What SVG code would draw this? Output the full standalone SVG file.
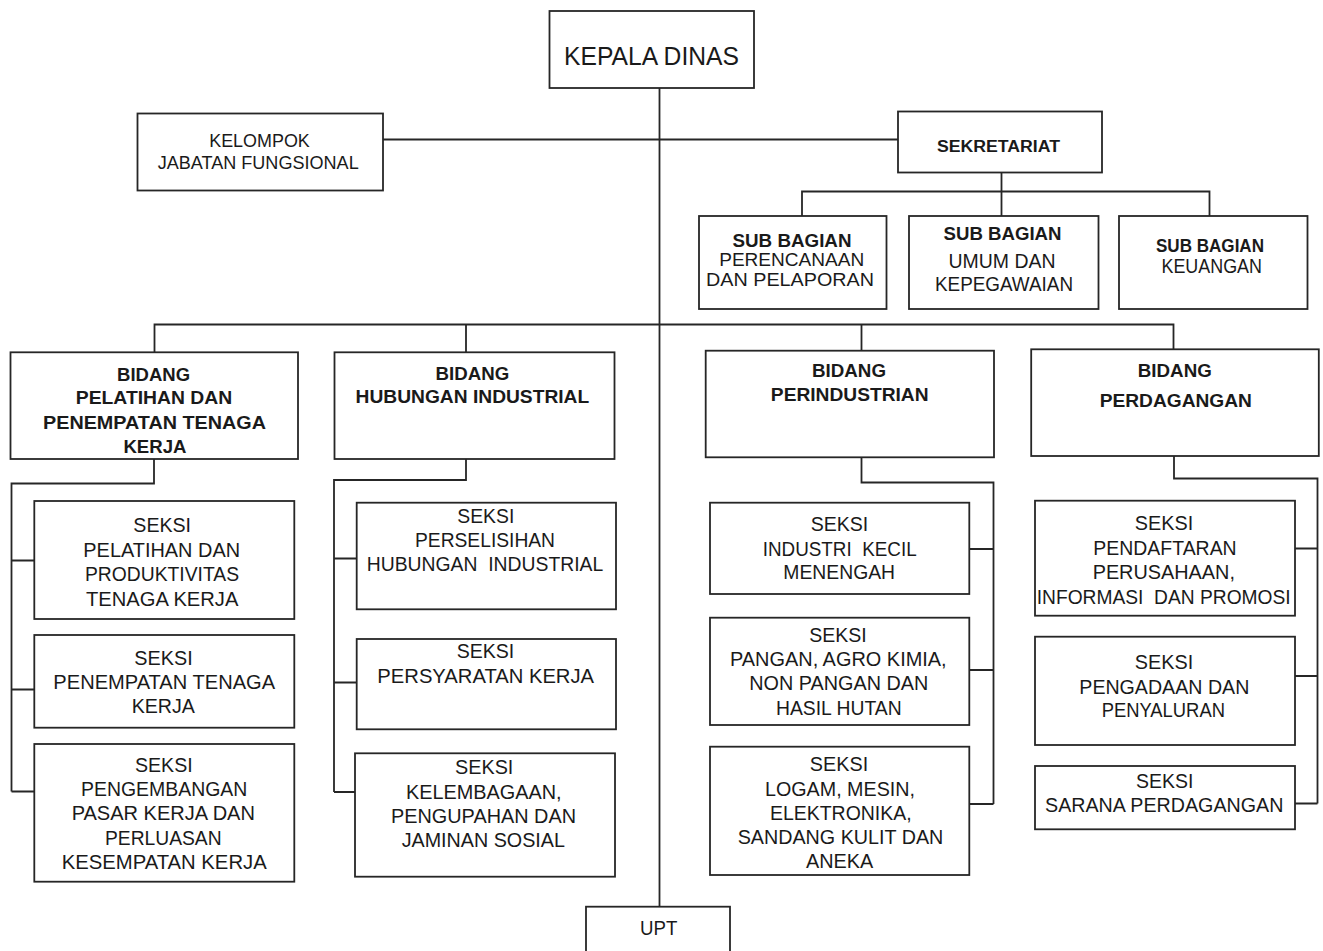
<svg xmlns="http://www.w3.org/2000/svg" width="1323" height="951" viewBox="0 0 1323 951">
<style>
.box{fill:#fff;stroke:#262626;stroke-width:1.8}
.ln{fill:none;stroke:#262626;stroke-width:1.8}
text{font-family:"Liberation Sans",Arial,sans-serif;fill:#1a1a1a;text-anchor:middle}
.t{font-size:20px}
.s{font-size:18px}
.b{font-size:19px;font-weight:bold}
</style>
<rect width="1323" height="951" fill="#fff"/>
<g id="connectors">
<path class="ln" d="M659.5 88 V907"/>
<path class="ln" d="M383 139.5 H898"/>
<path class="ln" d="M1001.5 172.5 V216 M802 216 V191.5 H1209.5 V216"/>
<path class="ln" d="M154.5 352 V324.5 H1173.5 V349.5 M466 324.5 V352 M861.5 324.5 V350.7"/>
<path class="ln" d="M154 459 V483.5 H11.5 V791.5 M11.5 560.5 H34.5 M11.5 689.5 H34.5 M11.5 791.5 H34.5"/>
<path class="ln" d="M466 459 V480 H334 V792 M334 558.5 H356.7 M334 682.5 H356.7 M334 792 H355"/>
<path class="ln" d="M861.5 457.3 V482.5 H993.5 V804 M969.3 549 H993.5 M969.3 670 H993.5 M969.3 804 H993.5"/>
<path class="ln" d="M1174 456 V478.5 H1317.5 V803.5 M1295 548.5 H1317.5 M1295 676 H1317.5 M1295 803.5 H1317.5"/>
</g>
<g id="kepala-dinas">
<rect class="box" x="549.5" y="11" width="204.5" height="77"/>
<text x="651.5" y="65" style="font-size:25px" textLength="175" lengthAdjust="spacingAndGlyphs">KEPALA DINAS</text>
</g>
<g id="kelompok-jabatan-fungsional">
<rect class="box" x="137.5" y="113.5" width="245.5" height="77"/>
<text x="259.5" y="146.7" style="font-size:18px" textLength="100.6" lengthAdjust="spacingAndGlyphs">KELOMPOK</text>
<text x="258.2" y="168.5" style="font-size:18px" textLength="201" lengthAdjust="spacingAndGlyphs">JABATAN FUNGSIONAL</text>
</g>
<g id="sekretariat">
<rect class="box" x="898" y="111.5" width="204" height="61"/>
<text x="998.5" y="151.7" style="font-size:16px;font-weight:bold" textLength="123" lengthAdjust="spacingAndGlyphs">SEKRETARIAT</text>
</g>
<g id="sub-bagian-perencanaan">
<rect class="box" x="699" y="216" width="187.5" height="93"/>
<text class="b" x="792" y="246.7" style="font-size:18px" textLength="119" lengthAdjust="spacingAndGlyphs">SUB BAGIAN</text>
<text class="s" x="791.7" y="266.2" textLength="145" lengthAdjust="spacingAndGlyphs">PERENCANAAN</text>
<text class="s" x="790" y="285.7" textLength="168" lengthAdjust="spacingAndGlyphs">DAN PELAPORAN</text>
</g>
<g id="sub-bagian-umum">
<rect class="box" x="909" y="216" width="189.5" height="93"/>
<text class="b" x="1002.5" y="240" textLength="118" lengthAdjust="spacingAndGlyphs">SUB BAGIAN</text>
<text class="t" x="1002" y="268.3" textLength="107" lengthAdjust="spacingAndGlyphs">UMUM DAN</text>
<text class="t" x="1004" y="291" textLength="138" lengthAdjust="spacingAndGlyphs">KEPEGAWAIAN</text>
</g>
<g id="sub-bagian-keuangan">
<rect class="box" x="1119" y="216" width="188.5" height="93"/>
<text class="b" x="1210" y="251.7" textLength="108" lengthAdjust="spacingAndGlyphs">SUB BAGIAN</text>
<text class="t" x="1211.7" y="273.3" textLength="100.5" lengthAdjust="spacingAndGlyphs">KEUANGAN</text>
</g>
<g id="bidang-pelatihan">
<rect class="box" x="10.5" y="352.3" width="287.5" height="106.7"/>
<text class="b" x="153.6" y="380.7" textLength="73" lengthAdjust="spacingAndGlyphs">BIDANG</text>
<text class="b" x="154" y="404.3" textLength="156.5" lengthAdjust="spacingAndGlyphs">PELATIHAN DAN</text>
<text class="b" x="154.5" y="429" textLength="223" lengthAdjust="spacingAndGlyphs">PENEMPATAN TENAGA</text>
<text class="b" x="154.9" y="453.3" textLength="63" lengthAdjust="spacingAndGlyphs">KERJA</text>
</g>
<g id="bidang-hubungan-industrial">
<rect class="box" x="334.5" y="352.3" width="280" height="106.7"/>
<text class="b" x="472.4" y="380" textLength="73.7" lengthAdjust="spacingAndGlyphs">BIDANG</text>
<text class="b" x="472.4" y="403.3" textLength="233.6" lengthAdjust="spacingAndGlyphs">HUBUNGAN INDUSTRIAL</text>
</g>
<g id="bidang-perindustrian">
<rect class="box" x="705.7" y="350.7" width="288.3" height="106.6"/>
<text class="b" x="849" y="377.3" textLength="74" lengthAdjust="spacingAndGlyphs">BIDANG</text>
<text class="b" x="849.7" y="401" textLength="157.7" lengthAdjust="spacingAndGlyphs">PERINDUSTRIAN</text>
</g>
<g id="bidang-perdagangan">
<rect class="box" x="1031.2" y="349.3" width="287.6" height="106.7"/>
<text class="b" x="1174.8" y="376.7" textLength="74" lengthAdjust="spacingAndGlyphs">BIDANG</text>
<text class="b" x="1175.8" y="406.7" textLength="152.3" lengthAdjust="spacingAndGlyphs">PERDAGANGAN</text>
</g>
<g id="seksi-pelatihan-produktivitas">
<rect class="box" x="34.3" y="501" width="260" height="118"/>
<text class="t" x="162.2" y="532.3" textLength="57.7" lengthAdjust="spacingAndGlyphs">SEKSI</text>
<text class="t" x="161.7" y="556.7" textLength="156.7" lengthAdjust="spacingAndGlyphs">PELATIHAN DAN</text>
<text class="t" x="162" y="580.7" textLength="154" lengthAdjust="spacingAndGlyphs">PRODUKTIVITAS</text>
<text class="t" x="162.2" y="605.5" textLength="152.3" lengthAdjust="spacingAndGlyphs">TENAGA KERJA</text>
</g>
<g id="seksi-penempatan">
<rect class="box" x="34.3" y="635" width="260" height="92.7"/>
<text class="t" x="163.5" y="665" textLength="58.3" lengthAdjust="spacingAndGlyphs">SEKSI</text>
<text class="t" x="164.2" y="689.3" textLength="221.7" lengthAdjust="spacingAndGlyphs">PENEMPATAN TENAGA</text>
<text class="t" x="163.3" y="712.7" textLength="63.3" lengthAdjust="spacingAndGlyphs">KERJA</text>
</g>
<g id="seksi-pengembangan-pasar-kerja">
<rect class="box" x="34.3" y="744" width="260" height="137.7"/>
<text class="t" x="163.8" y="771.7" textLength="57.7" lengthAdjust="spacingAndGlyphs">SEKSI</text>
<text class="t" x="164.2" y="796" textLength="166.3" lengthAdjust="spacingAndGlyphs">PENGEMBANGAN</text>
<text class="t" x="163.3" y="820" textLength="183.3" lengthAdjust="spacingAndGlyphs">PASAR KERJA DAN</text>
<text class="t" x="163.3" y="845" textLength="116.7" lengthAdjust="spacingAndGlyphs">PERLUASAN</text>
<text class="t" x="164.2" y="869.3" textLength="205" lengthAdjust="spacingAndGlyphs">KESEMPATAN KERJA</text>
</g>
<g id="seksi-perselisihan">
<rect class="box" x="356.7" y="502.7" width="259.3" height="106.6"/>
<text class="t" x="485.8" y="522.7" textLength="57" lengthAdjust="spacingAndGlyphs">SEKSI</text>
<text class="t" x="485" y="546.7" textLength="140" lengthAdjust="spacingAndGlyphs">PERSELISIHAN</text>
<text class="t" x="485" y="570.7" textLength="236.6" lengthAdjust="spacingAndGlyphs" xml:space="preserve">HUBUNGAN  INDUSTRIAL</text>
</g>
<g id="seksi-persyaratan-kerja">
<rect class="box" x="356.7" y="639" width="259.3" height="90.3"/>
<text class="t" x="485.5" y="658.3" textLength="57.6" lengthAdjust="spacingAndGlyphs">SEKSI</text>
<text class="t" x="485.7" y="682.7" textLength="216.7" lengthAdjust="spacingAndGlyphs">PERSYARATAN KERJA</text>
</g>
<g id="seksi-kelembagaan">
<rect class="box" x="355" y="753.3" width="260" height="123.4"/>
<text class="t" x="484.2" y="774" textLength="58.3" lengthAdjust="spacingAndGlyphs">SEKSI</text>
<text class="t" x="483.8" y="799.3" textLength="155.7" lengthAdjust="spacingAndGlyphs">KELEMBAGAAN,</text>
<text class="t" x="483.5" y="822.7" textLength="185" lengthAdjust="spacingAndGlyphs">PENGUPAHAN DAN</text>
<text class="t" x="483.3" y="847.3" textLength="163.3" lengthAdjust="spacingAndGlyphs">JAMINAN SOSIAL</text>
</g>
<g id="seksi-industri-kecil">
<rect class="box" x="710" y="502.7" width="259.3" height="91.3"/>
<text class="t" x="839.5" y="530.7" textLength="57.6" lengthAdjust="spacingAndGlyphs">SEKSI</text>
<text class="t" x="839.7" y="556" textLength="154" lengthAdjust="spacingAndGlyphs" xml:space="preserve">INDUSTRI  KECIL</text>
<text class="t" x="839.2" y="579.3" textLength="111.7" lengthAdjust="spacingAndGlyphs">MENENGAH</text>
</g>
<g id="seksi-pangan">
<rect class="box" x="710" y="617.7" width="259.3" height="107.3"/>
<text class="t" x="838" y="641.7" textLength="57.4" lengthAdjust="spacingAndGlyphs">SEKSI</text>
<text class="t" x="838.3" y="666" textLength="216.7" lengthAdjust="spacingAndGlyphs">PANGAN, AGRO KIMIA,</text>
<text class="t" x="838.8" y="690" textLength="179" lengthAdjust="spacingAndGlyphs">NON PANGAN DAN</text>
<text class="t" x="838.8" y="715" textLength="125.7" lengthAdjust="spacingAndGlyphs">HASIL HUTAN</text>
</g>
<g id="seksi-logam">
<rect class="box" x="710" y="746.7" width="259.3" height="128.3"/>
<text class="t" x="839" y="770.7" textLength="58.3" lengthAdjust="spacingAndGlyphs">SEKSI</text>
<text class="t" x="840" y="796" textLength="150" lengthAdjust="spacingAndGlyphs">LOGAM, MESIN,</text>
<text class="t" x="840.8" y="820" textLength="141.7" lengthAdjust="spacingAndGlyphs">ELEKTRONIKA,</text>
<text class="t" x="840.5" y="844" textLength="205.7" lengthAdjust="spacingAndGlyphs">SANDANG KULIT DAN</text>
<text class="t" x="839.7" y="868.3" textLength="67.3" lengthAdjust="spacingAndGlyphs">ANEKA</text>
</g>
<g id="seksi-pendaftaran">
<rect class="box" x="1035" y="500.7" width="260" height="115"/>
<text class="t" x="1164" y="530" textLength="58.3" lengthAdjust="spacingAndGlyphs">SEKSI</text>
<text class="t" x="1165" y="555" textLength="143.3" lengthAdjust="spacingAndGlyphs">PENDAFTARAN</text>
<text class="t" x="1163.8" y="579.3" textLength="142.3" lengthAdjust="spacingAndGlyphs">PERUSAHAAN,</text>
<text class="t" x="1163.7" y="604" textLength="254" lengthAdjust="spacingAndGlyphs" xml:space="preserve">INFORMASI  DAN PROMOSI</text>
</g>
<g id="seksi-pengadaan">
<rect class="box" x="1035" y="636.7" width="260" height="108.3"/>
<text class="t" x="1164" y="669.3" textLength="58.3" lengthAdjust="spacingAndGlyphs">SEKSI</text>
<text class="t" x="1164.3" y="694" textLength="170" lengthAdjust="spacingAndGlyphs">PENGADAAN DAN</text>
<text class="t" x="1163.3" y="717.3" textLength="123.3" lengthAdjust="spacingAndGlyphs">PENYALURAN</text>
</g>
<g id="seksi-sarana-perdagangan">
<rect class="box" x="1035" y="766" width="260" height="63.3"/>
<text class="t" x="1164.7" y="788.3" textLength="57.3" lengthAdjust="spacingAndGlyphs">SEKSI</text>
<text class="t" x="1164.2" y="811.7" textLength="238.3" lengthAdjust="spacingAndGlyphs">SARANA PERDAGANGAN</text>
</g>
<g id="upt">
<rect class="box" x="586" y="906.7" width="144" height="60"/>
<text class="t" x="658.7" y="935" textLength="37.3" lengthAdjust="spacingAndGlyphs">UPT</text>
</g>
</svg>
